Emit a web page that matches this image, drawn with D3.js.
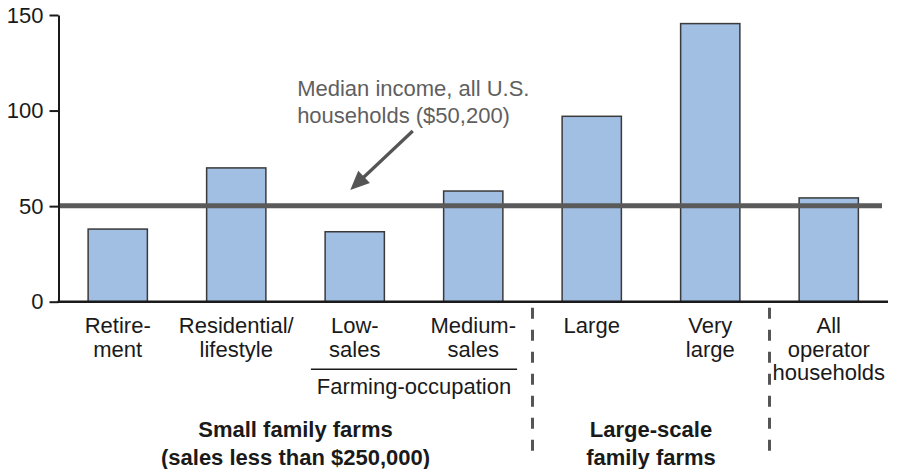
<!DOCTYPE html>
<html>
<head>
<meta charset="utf-8">
<script src="https://cdn.jsdelivr.net/npm/d3@7"></script>
<style>
  html, body { margin: 0; padding: 0; background: #fff; }
  svg { display: block; }
  text { font-family: "Liberation Sans", Arial, Helvetica, sans-serif; }
</style>
</head>
<body>
<svg id="chart" width="899" height="469"></svg>
<script>
// ---- data ----
const categories = ["Retirement", "Residential/lifestyle", "Low-sales", "Medium-sales", "Large", "Very large", "All operator households"];
const categoryLabels = [["Retire-", "ment"], ["Residential/", "lifestyle"], ["Low-", "sales"], ["Medium-", "sales"], ["Large"], ["Very", "large"], ["All", "operator", "households"]];
const values = [38, 70, 36.6, 57.9, 97, 145.5, 54.3];
const yTicks = [0, 50, 100, 150];
const medianIncome = 50.2;
const medianLabel = ["Median income, all U.S.", "households ($50,200)"];
const subGroupLabel = "Farming-occupation";
const groupLabels = [["Small family farms", "(sales less than $250,000)"], ["Large-scale", "family farms"]];

// ---- layout ----
const svg = d3.select("#chart");
const mLeft = 58.5, mRight = 888, mTop = 15, mBottom = 301.7;
const fontSize = 22;

const x = d3.scaleBand().domain(categories).range([mLeft, mRight]).paddingInner(0.5).paddingOuter(0.25);
const y = d3.scaleLinear().domain([0, 150]).range([mBottom, mTop]);
const bw = x.bandwidth();
const step = x.step();
const cx = c => x(c) + bw / 2;

// bars
svg.append("g").selectAll("rect").data(values).join("rect")
  .attr("x", (d, i) => x(categories[i]))
  .attr("y", d => y(d))
  .attr("width", bw)
  .attr("height", d => y(0) - y(d))
  .attr("fill", "#a1bee3")
  .attr("stroke", "#3a3a3a")
  .attr("stroke-width", 1.5);

// median line
svg.append("line")
  .attr("x1", mLeft).attr("x2", mRight - 6)
  .attr("y1", y(medianIncome)).attr("y2", y(medianIncome))
  .attr("stroke", "#5a5a5a").attr("stroke-width", 5);

// y axis
const yAxis = d3.axisLeft(y).tickValues(yTicks).tickSize(9).tickSizeOuter(0).tickPadding(6);
const gy = svg.append("g").attr("transform", `translate(${mLeft},0)`).call(yAxis);
gy.select(".domain").attr("stroke", "#1a1a1a").attr("stroke-width", 2);
gy.selectAll(".tick line").attr("stroke", "#1a1a1a").attr("stroke-width", 2);
gy.selectAll(".tick text").attr("font-size", fontSize).attr("fill", "#1a1a1a")
  .attr("font-family", "Liberation Sans, Arial, sans-serif");

// x axis baseline
svg.append("line")
  .attr("x1", mLeft - 1).attr("x2", mRight)
  .attr("y1", y(0)).attr("y2", y(0))
  .attr("stroke", "#1a1a1a").attr("stroke-width", 2.5);

// category labels
const lineH = 23.5;
const labelG = svg.append("g");
categoryLabels.forEach((lines, i) => {
  const t = labelG.append("text")
    .attr("x", cx(categories[i]))
    .attr("y", y(0) + 31.5)
    .attr("text-anchor", "middle")
    .attr("font-size", fontSize)
    .attr("fill", "#1a1a1a");
  lines.forEach((l, j) => {
    t.append("tspan").attr("x", cx(categories[i])).attr("dy", j === 0 ? 0 : lineH).text(l);
  });
});

// sub-group: Farming-occupation
const sgX1 = x(categories[2]) - step * 0.12;
const sgX2 = x(categories[3]) + bw + step * 0.12;
svg.append("line")
  .attr("x1", sgX1).attr("x2", sgX2)
  .attr("y1", y(0) + 67.5).attr("y2", y(0) + 67.5)
  .attr("stroke", "#1a1a1a").attr("stroke-width", 1.5);
svg.append("text")
  .attr("x", (cx(categories[2]) + cx(categories[3])) / 2)
  .attr("y", y(0) + 92)
  .attr("text-anchor", "middle")
  .attr("font-size", fontSize)
  .attr("fill", "#1a1a1a")
  .text(subGroupLabel);

// dashed separators
const sep1 = (x(categories[3]) + bw + x(categories[4])) / 2;
const sep2 = (x(categories[5]) + bw + x(categories[6])) / 2;
[sep1, sep2].forEach(sx => {
  svg.append("line")
    .attr("x1", sx).attr("x2", sx)
    .attr("y1", y(0) + 6).attr("y2", y(0) + 151)
    .attr("stroke", "#555").attr("stroke-width", 3)
    .attr("stroke-dasharray", "11,11");
});

// group labels (bold)
const g1x = (cx(categories[0]) + cx(categories[3])) / 2;
const g2x = (cx(categories[4]) + cx(categories[5])) / 2;
[[g1x, groupLabels[0]], [g2x, groupLabels[1]]].forEach(([gx, lines]) => {
  const t = svg.append("text")
    .attr("x", gx).attr("y", y(0) + 135.5)
    .attr("text-anchor", "middle")
    .attr("font-size", fontSize)
    .attr("font-weight", "bold")
    .attr("fill", "#1a1a1a");
  lines.forEach((l, j) => {
    t.append("tspan").attr("x", gx).attr("dy", j === 0 ? 0 : 27.5).text(l);
  });
});

// annotation text
const annX = x(categories[2]) - 28;
const ann = svg.append("text")
  .attr("x", annX).attr("y", y(107.8))
  .attr("font-size", fontSize)
  .attr("fill", "#5f5f5f");
medianLabel.forEach((l, j) => {
  ann.append("tspan").attr("x", annX).attr("dy", j === 0 ? 0 : 27.5).text(l);
});

// arrow
const ax1 = cx(categories[2]) + 58, ay1 = y(89.3);
const ax2 = cx(categories[2]) - 4.5, ay2 = y(58.5);
const ang = Math.atan2(ay2 - ay1, ax2 - ax1);
const headL = 19, headW = 8.5;
const bx = ax2 - headL * Math.cos(ang), by = ay2 - headL * Math.sin(ang);
svg.append("line")
  .attr("x1", ax1).attr("y1", ay1).attr("x2", bx + 2 * Math.cos(ang)).attr("y2", by + 2 * Math.sin(ang))
  .attr("stroke", "#555").attr("stroke-width", 3.2);
svg.append("path")
  .attr("d", d3.line()([
    [ax2, ay2],
    [bx + headW * Math.sin(ang), by - headW * Math.cos(ang)],
    [bx - headW * Math.sin(ang), by + headW * Math.cos(ang)]
  ]) + "Z")
  .attr("fill", "#555");
</script>
</body>
</html>
